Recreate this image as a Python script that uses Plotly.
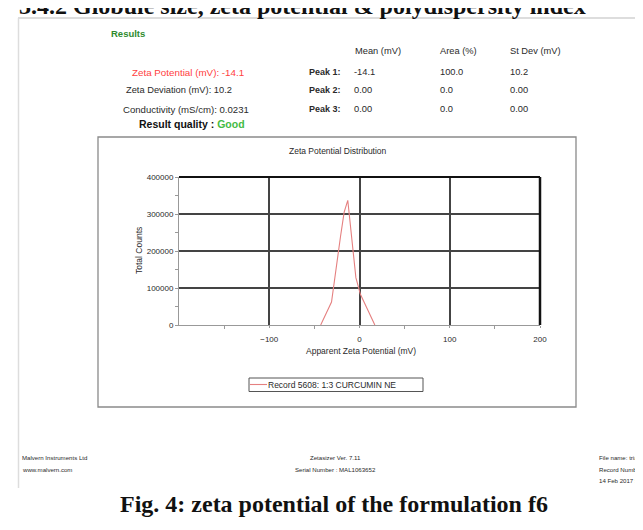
import plotly.graph_objects as go

# ---------------- data ----------------
zeta_mv = [-43, -31, -21, -17, -13, -4, 1, 17]
total_counts = [0, 62000, 240000, 305000, 337000, 128000, 83000, 0]
x_tickvals = [-100, 0, 100, 200]
x_minor = [-150, -50, 50, 150]
y_tickvals = [0, 100000, 200000, 300000, 400000]
y_minor = [50000, 150000, 250000, 350000]
series_name = "Record 5608: 1:3 CURCUMIN NE"

table_headers = ["Mean (mV)", "Area (%)", "St Dev (mV)"]
peak_labels = ["Peak 1:", "Peak 2:", "Peak 3:"]
peak_mean = ["-14.1", "0.00", "0.00"]
peak_area = ["100.0", "0.0", "0.0"]
peak_sd = ["10.2", "0.00", "0.00"]

W, H = 643, 530
L, R, T, B = 171, 532, 169, 317  # plot area in pixels


def px(x):
    return (x - L) / (R - L)


def py(y):
    return 1 - (y - T) / (B - T)


SANS = "Liberation Sans, Arial, sans-serif"
SERIF = "Liberation Serif, Times New Roman, serif"
TXT = "#2a2a2a"

fig = go.Figure()
fig.add_trace(go.Scatter(x=zeta_mv, y=total_counts, mode="lines",
                         line=dict(color="#e58080", width=1.1),
                         name=series_name, showlegend=False, hoverinfo="x+y"))

ann = []


def text(x, y, s, size=9.3, color=TXT, anchor="left", bold=False, family=SANS, yanchor="middle"):
    if bold:
        s = "<b>" + s + "</b>"
    ann.append(dict(x=px(x), y=py(y), xref="paper", yref="paper", text=s,
                    showarrow=False, xanchor=anchor, yanchor=yanchor,
                    font=dict(size=size, color=color, family=family)))


# top (cut-off) section heading
text(9, 13, "3.4.2 Globule size, zeta potential &amp; polydispersity index", size=24,
     color="#111111", bold=True, family=SERIF, yanchor="bottom")

# results block
text(101, 25, "Results", size=9.5, color="#2e8b2e", bold=True)
for hx, h in zip([345, 430, 500], table_headers):
    text(hx, 43, h)
rows_y = [64, 82, 101]
text(238, 64, "Zeta Potential (mV): -14.1", size=9.8, color="#ff4040", anchor="right")
text(226, 82, "Zeta Deviation (mV): 10.2", anchor="right")
text(243, 101, "Conductivity (mS/cm): 0.0231", size=9.6, anchor="right")
text(239, 116, "Result quality : <span style='color:#44bb44'>Good</span>", size=10.5,
     color="#111111", bold=True, anchor="right")
for i, yy in enumerate(rows_y):
    text(299, yy, peak_labels[i], bold=True, size=9)
    text(344, yy, peak_mean[i])
    text(430, yy, peak_area[i])
    text(500, yy, peak_sd[i])

# chart titles
text(329.5, 143, "Zeta Potential Distribution", size=8.5, anchor="center")
text(352.5, 343, "Apparent Zeta Potential (mV)", size=8.5, anchor="center")
ann.append(dict(x=px(131), y=py(243), xref="paper", yref="paper", text="Total Counts",
                showarrow=False, textangle=-90, xanchor="center", yanchor="middle",
                font=dict(size=8.5, color=TXT, family=SANS)))

# legend
text(258, 376.5, series_name, size=8.5)

# footer
FS = 6.1
text(12, 449, "Malvern Instruments Ltd", size=FS)
text(12, 461, "www.malvern.com", size=FS)
text(327, 449, "Zetasizer Ver. 7.11", size=FS, anchor="center")
text(327, 461, "Serial Number : MAL1063652", size=FS, anchor="center")
text(589, 449, "File name: trial 27.1", size=FS)
text(589, 461, "Record Number: 5608", size=FS)
text(589, 472, "14 Feb 2017 5:07:52 PM", size=FS)

# caption
text(325.5, 496, "Fig. 4: zeta potential of the formulation f6", size=24,
     color="#111111", bold=True, family=SERIF, anchor="center")

shapes = []


def line(x0, y0, x1, y1, color, width):
    shapes.append(dict(type="line", xref="paper", yref="paper",
                       x0=px(x0), y0=py(y0), x1=px(x1), y1=py(y1),
                       line=dict(color=color, width=width)))


# page frame
line(10, 10, 643, 10, "#dddddd", 2)
line(10.5, 10, 10.5, 480, "#dddddd", 1.5)
# chart box
shapes.append(dict(type="rect", xref="paper", yref="paper",
                   x0=px(90), y0=py(129), x1=px(568), y1=py(399),
                   line=dict(color="#8a8a8a", width=1.3)))
# plot frame top/right heavy lines
line(L, T, R, T, "#111111", 2)
line(R, T, R, B, "#111111", 2.5)
# legend box and sample
shapes.append(dict(type="rect", xref="paper", yref="paper",
                   x0=px(241), y0=py(370), x1=px(415), y1=py(383.5),
                   line=dict(color="#555555", width=1)))
line(242, 376.5, 259, 376.5, "#e58080", 1.1)

fig.update_layout(
    width=W, height=H,
    margin=dict(l=L, r=W - R, t=T, b=H - B, pad=0),
    paper_bgcolor="white", plot_bgcolor="white",
    annotations=ann, shapes=shapes, showlegend=False,
    xaxis=dict(range=[-200, 200], tickmode="array", tickvals=x_tickvals,
               showgrid=True, gridcolor="#444444", gridwidth=1.5,
               zeroline=True, zerolinecolor="#444444", zerolinewidth=1.5,
               showline=True, linecolor="#999999", linewidth=1,
               ticks="outside", ticklen=2, tickcolor="#999999",
               minor=dict(tickmode="array", tickvals=x_minor, ticks="outside",
                          ticklen=3, tickcolor="#999999", showgrid=False),
               tickfont=dict(size=8, color=TXT, family=SANS),
               ticklabelstandoff=4, fixedrange=True),
    yaxis=dict(range=[0, 400000], tickmode="array", tickvals=y_tickvals,
               tickformat="d",
               showgrid=True, gridcolor="#444444", gridwidth=1.5,
               zeroline=True, zerolinecolor="#999999", zerolinewidth=1.5,
               showline=True, linecolor="#999999", linewidth=1,
               ticks="outside", ticklen=3, tickcolor="#999999",
               minor=dict(tickmode="array", tickvals=y_minor, ticks="outside",
                          ticklen=3, tickcolor="#999999", showgrid=False),
               tickfont=dict(size=8, color=TXT, family=SANS),
               ticklabelstandoff=0, fixedrange=True),
)

fig.write_html("out.html", config=dict(displayModeBar=False))
